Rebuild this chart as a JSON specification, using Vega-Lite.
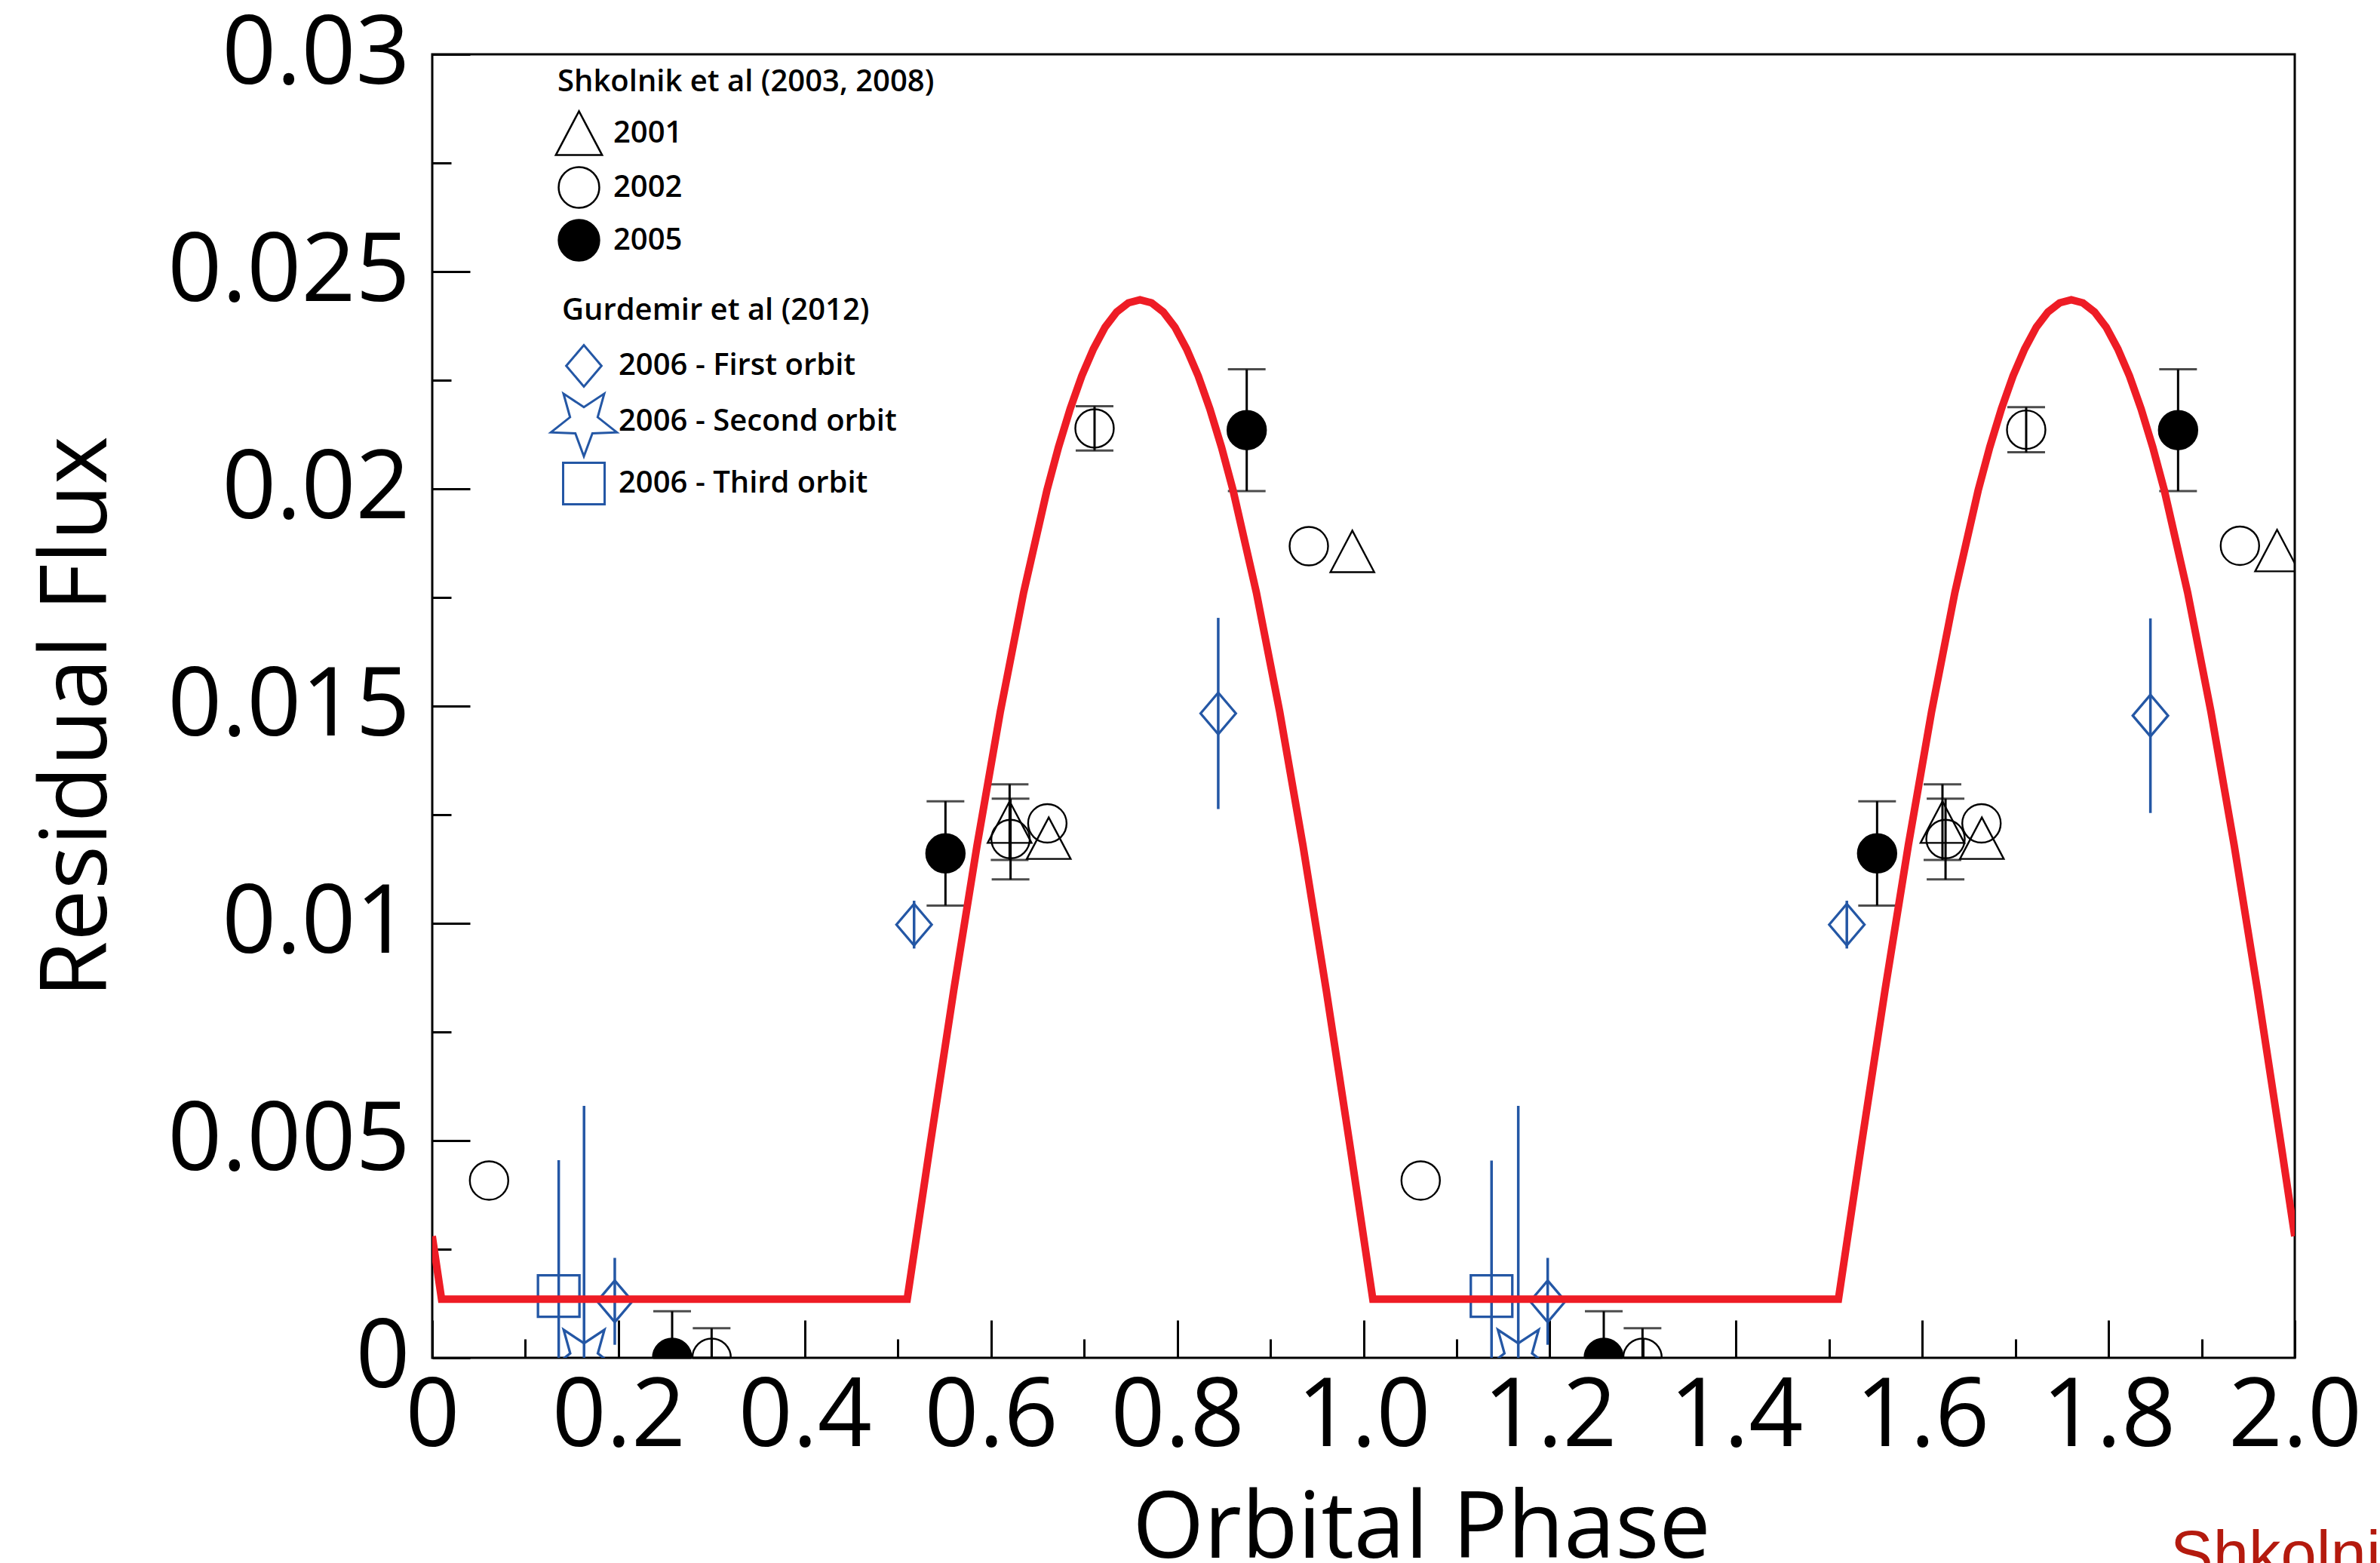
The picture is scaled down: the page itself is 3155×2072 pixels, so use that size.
{
  "$schema": "https://vega.github.io/schema/vega-lite/v6.json",
  "width": 2469,
  "height": 1728,
  "autosize": {"type": "none"},
  "padding": {"left": 573, "top": 72, "right": 113, "bottom": 272},
  "background": "white",
  "title": {
    "text": "Shkolnik et al. (2008)",
    "orient": "bottom",
    "anchor": "start",
    "frame": "group",
    "dx": 2304,
    "offset": -66,
    "baseline": "top",
    "font": "Liberation Sans",
    "fontSize": 85,
    "fontWeight": "normal",
    "color": "#b41a0e",
    "limit": 2000
  },
  "datasets": {
    "shk": [
      {"phase": 0.061, "flux": 0.00408, "series": "2002"},
      {"phase": 0.2576, "flux": 0.0, "err": 0.00107, "series": "2005"},
      {"phase": 0.3, "flux": 0.0, "err": 0.00068, "series": "2002"},
      {"phase": 0.5511, "flux": 0.01161, "err": 0.0012, "series": "2005"},
      {"phase": 0.62, "flux": 0.01233, "err": 0.00087, "series": "2001"},
      {"phase": 0.621, "flux": 0.01194, "err": 0.00093, "series": "2002"},
      {"phase": 0.6605, "flux": 0.0123, "series": "2002"},
      {"phase": 0.662, "flux": 0.01196, "series": "2001"},
      {"phase": 0.7112, "flux": 0.02139, "err": 0.00051, "series": "2002"},
      {"phase": 0.8746, "flux": 0.02135, "err": 0.0014, "series": "2005"},
      {"phase": 0.9413, "flux": 0.01868, "series": "2002"},
      {"phase": 0.988, "flux": 0.01856, "series": "2001"},
      {"phase": 1.0614, "flux": 0.00408, "series": "2002"},
      {"phase": 1.258, "flux": 0.0, "err": 0.00107, "series": "2005"},
      {"phase": 1.2996, "flux": 0.0, "err": 0.00068, "series": "2002"},
      {"phase": 1.5515, "flux": 0.01161, "err": 0.0012, "series": "2005"},
      {"phase": 1.6217, "flux": 0.01233, "err": 0.00087, "series": "2001"},
      {"phase": 1.625, "flux": 0.01194, "err": 0.00093, "series": "2002"},
      {"phase": 1.6636, "flux": 0.0123, "series": "2002"},
      {"phase": 1.664, "flux": 0.01196, "series": "2001"},
      {"phase": 1.7116, "flux": 0.02136, "err": 0.00052, "series": "2002"},
      {"phase": 1.8747, "flux": 0.02135, "err": 0.0014, "series": "2005"},
      {"phase": 1.9411, "flux": 0.01869, "series": "2002"},
      {"phase": 1.981, "flux": 0.01858, "series": "2001"}
    ],
    "gur": [
      {"phase": 0.1358, "flux": 0.00142, "err": 0.00313, "orbit": "2006 - Third orbit"},
      {"phase": 0.163, "flux": 0.0, "err": 0.0058, "orbit": "2006 - Second orbit"},
      {"phase": 0.196, "flux": 0.0013, "err": 0.001, "orbit": "2006 - First orbit"},
      {"phase": 0.5174, "flux": 0.00997, "err": 0.00055, "orbit": "2006 - First orbit"},
      {"phase": 0.844, "flux": 0.01483, "err": 0.0022, "orbit": "2006 - First orbit"},
      {"phase": 1.1375, "flux": 0.00142, "err": 0.00312, "orbit": "2006 - Third orbit"},
      {"phase": 1.1662, "flux": 0.0, "err": 0.0058, "orbit": "2006 - Second orbit"},
      {"phase": 1.1978, "flux": 0.0013, "err": 0.001, "orbit": "2006 - First orbit"},
      {"phase": 1.519, "flux": 0.00997, "err": 0.00055, "orbit": "2006 - First orbit"},
      {"phase": 1.845, "flux": 0.01478, "err": 0.00224, "orbit": "2006 - First orbit"}
    ],
    "model": [
      {"phase": 0, "flux": 0.0028},
      {"phase": 0.01, "flux": 0.00135},
      {"phase": 0.51, "flux": 0.00135},
      {"phase": 0.535, "flux": 0.00495},
      {"phase": 0.56, "flux": 0.00846},
      {"phase": 0.585, "flux": 0.01179},
      {"phase": 0.61, "flux": 0.01487},
      {"phase": 0.635, "flux": 0.01761},
      {"phase": 0.66, "flux": 0.01996},
      {"phase": 0.6725, "flux": 0.02096},
      {"phase": 0.685, "flux": 0.02184},
      {"phase": 0.6975, "flux": 0.0226},
      {"phase": 0.71, "flux": 0.02322},
      {"phase": 0.7225, "flux": 0.02372},
      {"phase": 0.735, "flux": 0.02407},
      {"phase": 0.7475, "flux": 0.02428},
      {"phase": 0.76, "flux": 0.02435},
      {"phase": 0.7725, "flux": 0.02428},
      {"phase": 0.785, "flux": 0.02407},
      {"phase": 0.7975, "flux": 0.02372},
      {"phase": 0.81, "flux": 0.02322},
      {"phase": 0.8225, "flux": 0.0226},
      {"phase": 0.835, "flux": 0.02184},
      {"phase": 0.8475, "flux": 0.02096},
      {"phase": 0.86, "flux": 0.01996},
      {"phase": 0.885, "flux": 0.01761},
      {"phase": 0.91, "flux": 0.01487},
      {"phase": 0.935, "flux": 0.01179},
      {"phase": 0.96, "flux": 0.00846},
      {"phase": 0.985, "flux": 0.00495},
      {"phase": 1.01, "flux": 0.00135},
      {"phase": 1.51, "flux": 0.00135},
      {"phase": 1.535, "flux": 0.00495},
      {"phase": 1.56, "flux": 0.00846},
      {"phase": 1.585, "flux": 0.01179},
      {"phase": 1.61, "flux": 0.01487},
      {"phase": 1.635, "flux": 0.01761},
      {"phase": 1.66, "flux": 0.01996},
      {"phase": 1.6725, "flux": 0.02096},
      {"phase": 1.685, "flux": 0.02184},
      {"phase": 1.6975, "flux": 0.0226},
      {"phase": 1.71, "flux": 0.02322},
      {"phase": 1.7225, "flux": 0.02372},
      {"phase": 1.735, "flux": 0.02407},
      {"phase": 1.7475, "flux": 0.02428},
      {"phase": 1.76, "flux": 0.02435},
      {"phase": 1.7725, "flux": 0.02428},
      {"phase": 1.785, "flux": 0.02407},
      {"phase": 1.7975, "flux": 0.02372},
      {"phase": 1.81, "flux": 0.02322},
      {"phase": 1.8225, "flux": 0.0226},
      {"phase": 1.835, "flux": 0.02184},
      {"phase": 1.8475, "flux": 0.02096},
      {"phase": 1.86, "flux": 0.01996},
      {"phase": 1.885, "flux": 0.01761},
      {"phase": 1.91, "flux": 0.01487},
      {"phase": 1.935, "flux": 0.01179},
      {"phase": 1.96, "flux": 0.00846},
      {"phase": 1.985, "flux": 0.00495},
      {"phase": 2.0, "flux": 0.0028}
    ]
  },
  "encoding": {
    "x": {
      "field": "phase",
      "type": "quantitative",
      "scale": {"domain": [0, 2], "nice": false, "zero": false},
      "axis": {
        "title": "Orbital Phase",
        "values": [0, 0.1, 0.2, 0.3, 0.4, 0.5, 0.6, 0.7, 0.8, 0.9, 1, 1.1, 1.2, 1.3, 1.4, 1.5, 1.6, 1.7, 1.8, 1.9, 2],
        "labelExpr": "round(datum.value*10) % 2 == 0 ? (datum.value == 0 ? '0' : format(datum.value, '.1f')) : ''",
        "tickSize": {"condition": {"test": "round(datum.value*10) % 2 == 0", "value": -50}, "value": -25},
        "labelPadding": 66,
        "labelFlush": false,
        "labelOverlap": false,
        "labelBound": false,
        "labelLimit": 2000,
        "titleX": 1311,
        "titleY": 264,
        "titleBaseline": "alphabetic",
        "titleLimit": 3000
      }
    },
    "y": {
      "field": "flux",
      "type": "quantitative",
      "scale": {"domain": [0, 0.03], "nice": false, "clamp": true},
      "axis": {
        "title": "Residual Flux",
        "values": [0, 0.0025, 0.005, 0.0075, 0.01, 0.0125, 0.015, 0.0175, 0.02, 0.0225, 0.025, 0.0275, 0.03],
        "labelExpr": "round(datum.value*400) % 2 == 0 ? format(datum.value, '~g') : ''",
        "tickSize": {"condition": {"test": "round(datum.value*400) % 2 == 0", "value": -50}, "value": -25},
        "labelPadding": 80,
        "labelFlush": false,
        "labelOverlap": false,
        "labelBound": false,
        "labelLimit": 2000,
        "titleX": -433,
        "titleY": 878,
        "titleBaseline": "alphabetic",
        "titleLimit": 3000
      }
    }
  },
  "layer": [
    {
      "data": {"name": "gur"},
      "transform": [{"filter": "datum.err > 0"}],
      "mark": {"type": "errorbar", "color": "#2457a5", "rule": {"strokeWidth": 3.5}},
      "encoding": {"yError": {"field": "err"}}
    },
    {
      "data": {"name": "shk"},
      "transform": [{"filter": "datum.err > 0"}],
      "mark": {"type": "errorbar", "color": "black", "ticks": {"size": 50, "thickness": 3}, "rule": {"strokeWidth": 3}},
      "encoding": {"yError": {"field": "err"}}
    },
    {
      "data": {"name": "gur"},
      "mark": {"type": "point", "filled": false, "color": "#2457a5", "strokeWidth": 3.3, "size": 3025, "opacity": 1, "clip": true},
      "encoding": {
        "shape": {
          "field": "orbit",
          "type": "nominal",
          "scale": {
            "domain": ["2006 - First orbit", "2006 - Second orbit", "2006 - Third orbit"],
            "range": [
              "M-0.85,0L0,-1L0.85,0L0,1Z",
              "M0,1.67L-0.411,0.566L-1.588,0.516L-0.666,-0.216L-0.982,-1.351L0,-0.7L0.982,-1.351L0.666,-0.216L1.588,0.516L0.411,0.566Z",
              "square"
            ]
          },
          "legend": {
            "title": "Gurdemir et al (2012)",
            "orient": "none",
            "legendX": 172,
            "legendY": 320,
            "symbolSize": 3025,
            "symbolStrokeColor": "#2457a5",
            "symbolFillColor": "transparent",
            "symbolStrokeWidth": 3,
            "symbolOpacity": 1,
            "rowPadding": -4,
            "titlePadding": 24,
            "labelOffset": 17,
            "labelLimit": 2000,
            "titleLimit": 2000,
            "encode": {"symbols": {"update": {"stroke": {"value": "#2457a5"}, "strokeWidth": {"value": 3}, "fill": {"value": "transparent"}, "opacity": {"value": 1}}}}
          }
        }
      }
    },
    {
      "data": {"name": "shk"},
      "mark": {"type": "point", "filled": true, "stroke": "black", "strokeWidth": 2.4, "size": 2600, "opacity": 1, "clip": true},
      "encoding": {
        "shape": {
          "field": "series",
          "type": "nominal",
          "scale": {"domain": ["2001", "2002", "2005"], "range": ["M0,-1.08L1.14,1.08L-1.14,1.08Z", "circle", "circle"]},
          "legend": {
            "title": "Shkolnik et al (2003, 2008)",
            "orient": "none",
            "legendX": 166,
            "legendY": 17,
            "symbolSize": 2900,
            "symbolStrokeColor": "black",
            "symbolStrokeWidth": 2.5,
            "symbolOpacity": 1,
            "rowPadding": 5,
            "titlePadding": 19,
            "labelOffset": 17,
            "labelLimit": 2000,
            "titleLimit": 2000,
            "encode": {"symbols": {"update": {"stroke": {"value": "black"}, "strokeWidth": {"value": 2.5}, "opacity": {"value": 1}}}}
          }
        },
        "fill": {
          "field": "series",
          "type": "nominal",
          "scale": {"domain": ["2001", "2002", "2005"], "range": ["transparent", "transparent", "black"]},
          "legend": {
            "title": "Shkolnik et al (2003, 2008)",
            "orient": "none",
            "legendX": 166,
            "legendY": 17,
            "symbolSize": 2900,
            "symbolStrokeColor": "black",
            "symbolStrokeWidth": 2.5,
            "symbolOpacity": 1,
            "rowPadding": 5,
            "titlePadding": 19,
            "labelOffset": 17,
            "labelLimit": 2000,
            "titleLimit": 2000,
            "encode": {"symbols": {"update": {"stroke": {"value": "black"}, "strokeWidth": {"value": 2.5}, "opacity": {"value": 1}}}}
          }
        }
      }
    },
    {
      "data": {"name": "model"},
      "mark": {"type": "line", "color": "#ee1c25", "strokeWidth": 10, "strokeJoin": "miter", "clip": true},
      "encoding": {}
    }
  ],
  "resolve": {"scale": {"shape": "independent", "fill": "independent"}},
  "config": {
    "view": {"stroke": "black", "strokeWidth": 3},
    "font": "Open Sans",
    "axis": {
      "domain": false,
      "grid": false,
      "tickColor": "black",
      "tickWidth": 3,
      "labelColor": "black",
      "titleColor": "black",
      "labelFont": "Open Sans",
      "titleFont": "Open Sans",
      "labelFontSize": 126,
      "titleFontSize": 122,
      "titleFontWeight": "normal"
    },
    "legend": {
      "titleFont": "Open Sans",
      "titleFontSize": 40,
      "titleFontWeight": 600,
      "titleColor": "black",
      "labelFont": "Open Sans",
      "labelFontSize": 40,
      "labelFontWeight": 600,
      "labelColor": "black",
      "padding": 0,
      "titleAnchor": "start"
    }
  }
}
